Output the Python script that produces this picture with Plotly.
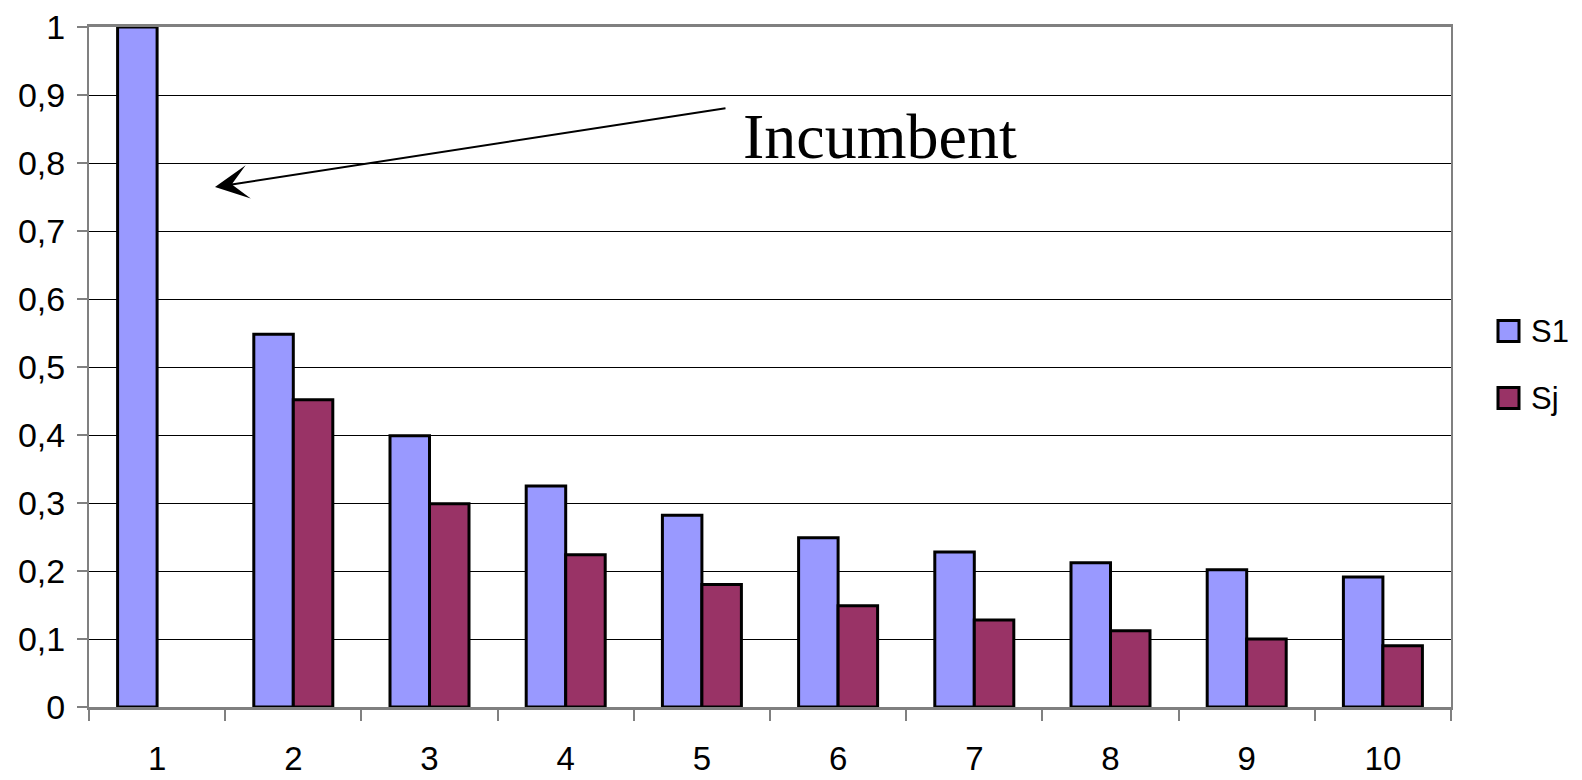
import plotly.graph_objects as go

# Group sizes 1..10 and the two shares
groups = ["1", "2", "3", "4", "5", "6", "7", "8", "9", "10"]
s1_values = [1.0, 0.548, 0.399, 0.325, 0.282, 0.249, 0.228, 0.212, 0.202, 0.191]
sj_values = [None, 0.452, 0.299, 0.224, 0.180, 0.149, 0.128, 0.112, 0.100, 0.090]
y_ticks = [0, 0.1, 0.2, 0.3, 0.4, 0.5, 0.6, 0.7, 0.8, 0.9, 1.0]

S1_COLOR = "#9999FF"
SJ_COLOR = "#993366"
AXIS_GRAY = "#808080"
SANS = "Liberation Sans, Arial, sans-serif"

fig = go.Figure()
fig.add_trace(go.Bar(x=groups, y=s1_values, name="S1",
                     marker=dict(color=S1_COLOR, line=dict(color="black", width=3))))
fig.add_trace(go.Bar(x=groups, y=sj_values, name="Sj",
                     marker=dict(color=SJ_COLOR, line=dict(color="black", width=3))))

W, H = 1582, 780
L, R, T, B = 89, 131, 27, 73
pw, ph = W - L - R, H - T - B

def px_x(x):
    return (x - L) / pw

def px_y(y):
    return (H - B - y) / ph

# Hand-drawn style legend on the right
legend_items = [("S1", S1_COLOR, 331), ("Sj", SJ_COLOR, 398)]
shapes = []
annotations = []
for label, color, cy in legend_items:
    shapes.append(dict(type="rect", xref="paper", yref="paper",
                       x0=px_x(1498), x1=px_x(1519),
                       y0=px_y(cy + 10.5), y1=px_y(cy - 10.5),
                       fillcolor=color, line=dict(color="black", width=3)))
    annotations.append(dict(xref="paper", yref="paper", x=px_x(1529), y=px_y(cy),
                            xanchor="left", yanchor="middle", text=label, showarrow=False,
                            font=dict(family=SANS, size=31, color="black")))

# Arrow pointing at the first group
annotations.append(dict(xref="paper", yref="paper", x=px_x(215), y=px_y(187),
                        ax=727 - 215, ay=108 - 187, text="", showarrow=True,
                        arrowhead=3, arrowsize=2.8, arrowwidth=2, arrowcolor="black"))
annotations.append(dict(xref="paper", yref="paper", x=px_x(741), y=px_y(136),
                        xanchor="left", yanchor="middle", text="Incumbent", showarrow=False,
                        font=dict(family="Liberation Serif, Times New Roman, serif",
                                  size=64, color="black")))

fig.update_layout(
    width=W, height=H,
    margin=dict(l=L, r=R, t=T, b=B, pad=0, autoexpand=False),
    paper_bgcolor="white", plot_bgcolor="white",
    barmode="group", bargap=0.42, bargroupgap=0,
    showlegend=False,
    separators=", ",
    font=dict(family=SANS, size=34, color="black"),
    shapes=shapes, annotations=annotations,
)
fig.update_xaxes(
    type="category", tickson="boundaries", automargin=False,
    ticks="outside", ticklen=11, tickwidth=2, tickcolor=AXIS_GRAY,
    showline=True, linecolor=AXIS_GRAY, linewidth=3, mirror=True,
    showgrid=False, ticklabelstandoff=20,
    tickfont=dict(family=SANS, size=33, color="black"),
)
fig.update_yaxes(
    range=[0, 1], tickvals=y_ticks, automargin=False,
    ticks="outside", ticklen=10, tickwidth=2, tickcolor=AXIS_GRAY,
    showline=True, linecolor=AXIS_GRAY, linewidth=2, mirror=True,
    showgrid=True, gridcolor="black", gridwidth=1, zeroline=False,
    ticklabelstandoff=5,
    tickfont=dict(family=SANS, size=34, color="black"),
)

fig.write_html("out.html")
